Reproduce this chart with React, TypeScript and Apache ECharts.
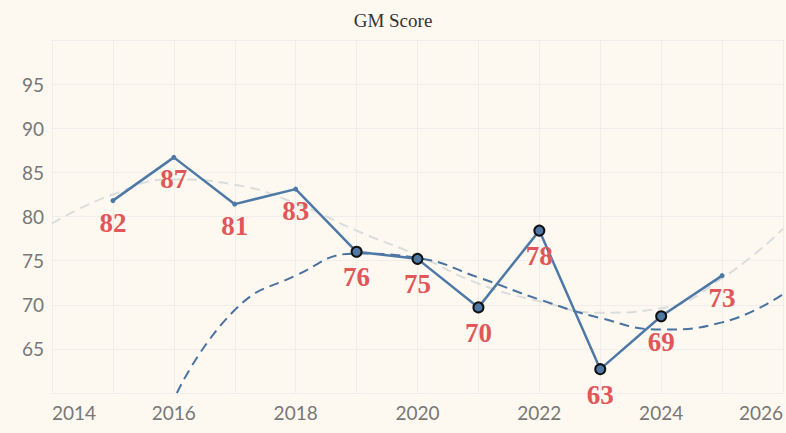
import React, { useEffect, useRef } from "react";
import * as echarts from "echarts";

const years = [2015, 2016, 2017, 2018, 2019, 2020, 2021, 2022, 2023, 2024, 2025];
const scores = [81.8, 86.7, 81.4, 83.1, 76.0, 75.2, 69.7, 78.4, 62.7, 68.7, 73.3];
const scoreLabels = ["82", "87", "81", "83", "76", "75", "70", "78", "63", "69", "73"];
const highlighted = [false, false, false, false, true, true, true, true, true, true, false];
const grayTrendX = [2014, 2015, 2016, 2017, 2018, 2019, 2020, 2021, 2022, 2023, 2024, 2025, 2026];
const grayTrendY = [79.2, 82.5, 84.2, 83.6, 81.5, 78.4, 75.6, 72.4, 70.4, 69.1, 69.6, 73.0, 78.6];
const blueTrendX = [2016.05, 2017, 2018, 2019, 2020, 2021, 2022, 2023, 2024, 2025, 2026];
const blueTrendY = [60.0, 69.4, 73.3, 75.8, 75.3, 73.1, 70.6, 68.5, 67.2, 68.0, 71.2];

export default function App() {
  const ref = useRef<HTMLDivElement>(null);
  useEffect(() => {
    const chart = echarts.init(ref.current!, null, { renderer: "svg" });
    chart.setOption({
      animation: false,
      backgroundColor: "#fdf9f0",
      title: {
        text: "GM Score",
        left: "center",
        top: 6,
        textStyle: { fontFamily: "Liberation Serif", fontWeight: "normal", fontSize: 19, color: "#333" },
      },
      grid: { left: 52, right: 1, top: 40, bottom: 40 },
      xAxis: {
        type: "value",
        min: 2014,
        max: 2026,
        interval: 1,
        axisLine: { show: false },
        axisTick: { show: false },
        splitLine: { show: true, lineStyle: { color: "#f0eeea", width: 1 } },
        axisLabel: {
          formatter: (v: number) => (v % 2 === 0 ? String(v) : ""),
          color: "#777",
          fontSize: 19,
          fontFamily: "Lato",
          margin: 10,
          alignMinLabel: "left",
          alignMaxLabel: "right",
        },
      },
      yAxis: {
        type: "value",
        min: 60,
        max: 100,
        interval: 5,
        axisLine: { show: false },
        axisTick: { show: false },
        splitLine: { show: true, lineStyle: { color: "#f0eeea", width: 1 } },
        axisLabel: { showMinLabel: false, showMaxLabel: false, color: "#777", fontSize: 19, fontFamily: "Lato", margin: 8 },
      },
      series: [
        {
          type: "line",
          data: grayTrendX.map((x, i) => [x, grayTrendY[i]]),
          smooth: 0.5,
          symbol: "none",
          lineStyle: { color: "#dadddb", width: 2, type: [10, 6] },
          z: 1,
        },
        {
          type: "line",
          data: blueTrendX.map((x, i) => [x, blueTrendY[i]]),
          smooth: 0.5,
          symbol: "none",
          lineStyle: { color: "#4a72a0", width: 2, type: [10, 6] },
          z: 2,
        },
        {
          type: "line",
          data: years.map((y, i) => ({
            value: [y, scores[i]],
            symbolSize: highlighted[i] ? 10 : 5,
            itemStyle: highlighted[i]
              ? { color: "#4e79a7", borderColor: "#111", borderWidth: 2 }
              : { color: "#4e79a7", borderWidth: 0 },
          })),
          symbol: "circle",
          lineStyle: { color: "#4e79a7", width: 2.5 },
          label: {
            show: true,
            position: "bottom",
            distance: 6,
            formatter: (p: any) => scoreLabels[p.dataIndex],
            color: "#e05759",
            fontSize: 27,
            fontWeight: "bold",
            fontFamily: "Liberation Serif",
          },
          z: 3,
        },
      ],
    });
    return () => chart.dispose();
  }, []);
  return <div ref={ref} style={{ width: 786, height: 433, position: "absolute", left: 0, top: 0 }} />;
}
